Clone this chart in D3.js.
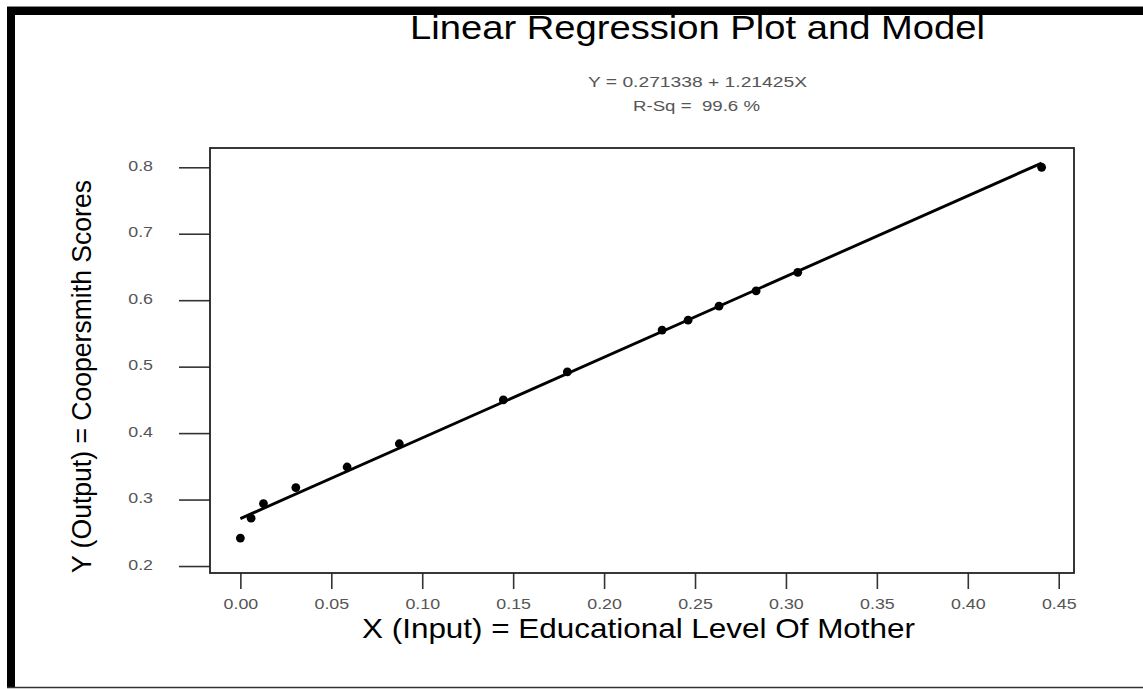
<!DOCTYPE html>
<html>
<head>
<meta charset="utf-8">
<script src="https://cdn.jsdelivr.net/npm/d3@7/dist/d3.min.js"></script>
<style>
html,body{margin:0;padding:0;background:#fff;}
svg{display:block;font-family:"Liberation Sans",Arial,sans-serif;}
</style>
</head>
<body>
<svg id="chart" width="1143" height="689"></svg>
<script>
// ---- data ----
const xValues = [0.000, 0.0059, 0.0127, 0.0305, 0.0587, 0.0874, 0.1446, 0.1798, 0.2319, 0.2462, 0.2632, 0.2836, 0.3065, 0.4406];
const yValues = [0.242, 0.272, 0.294, 0.318, 0.349, 0.384, 0.450, 0.492, 0.555, 0.570, 0.591, 0.614, 0.642, 0.800];
const xTicks = [0.00, 0.05, 0.10, 0.15, 0.20, 0.25, 0.30, 0.35, 0.40, 0.45];
const yTicks = [0.2, 0.3, 0.4, 0.5, 0.6, 0.7, 0.8];
const intercept = 0.271338;
const slope = 1.21425;
const rSq = 99.6;
const titleText = "Linear Regression Plot and Model";
const xLabelText = "X (Input) = Educational Level Of Mother";
const yLabelText = "Y (Output) = Coopersmith Scores";

// ---- layout ----
const svg = d3.select("#chart");
const frame = {left: 210, right: 1074, top: 148, bottom: 573};
const x = d3.scaleLinear().domain([-0.0167, 0.4584]).range([frame.left, frame.right]);
const y = d3.scaleLinear().domain([0.1895, 0.829]).range([frame.bottom, frame.top]);
const stretch = 1.15;

// title (drawn before the border bar so the bar overlaps its top)
svg.append("text")
  .attr("x", 410).attr("y", 39)
  .attr("font-size", 34)
  .attr("textLength", 575).attr("lengthAdjust", "spacingAndGlyphs")
  .attr("fill", "#000")
  .text(titleText);

// equation
svg.append("text")
  .attr("x", 588).attr("y", 87)
  .attr("font-size", 15.5)
  .attr("textLength", 219).attr("lengthAdjust", "spacingAndGlyphs")
  .attr("fill", "#555")
  .text(`Y = ${intercept} + ${slope}X`);
svg.append("text")
  .attr("x", 633).attr("y", 111)
  .attr("font-size", 15.5)
  .attr("textLength", 127).attr("lengthAdjust", "spacingAndGlyphs")
  .attr("fill", "#555")
  .style("white-space", "pre")
  .text(`R-Sq =  ${rSq} %`);

// outer border
svg.append("line").attr("x1", 7).attr("x2", 1143).attr("y1", 6.5).attr("y2", 6.5)
  .attr("stroke", "#888").attr("stroke-width", 1);
svg.append("rect").attr("x", 7).attr("y", 7).attr("width", 1136).attr("height", 8).attr("fill", "#000");
svg.append("rect").attr("x", 7).attr("y", 7).attr("width", 8).attr("height", 681).attr("fill", "#000");
svg.append("line").attr("x1", 7).attr("x2", 1143).attr("y1", 687.5).attr("y2", 687.5)
  .attr("stroke", "#333").attr("stroke-width", 1.5);

// axes
const yAxis = svg.append("g")
  .attr("transform", `translate(${frame.left},0)`)
  .call(d3.axisLeft(y).tickValues(yTicks).tickFormat(d3.format(".1f")).tickSize(31).tickSizeOuter(0));
yAxis.select(".domain").remove();
yAxis.selectAll(".tick line").attr("stroke", "#333").attr("stroke-width", 1.6);
yAxis.selectAll(".tick text")
  .attr("x", 0).attr("dy", "0.3em")
  .attr("transform", `translate(-57,-1.5) scale(${stretch},1)`)
  .attr("font-size", 15.5).attr("fill", "#555")
  .attr("font-family", "Liberation Sans, Arial, sans-serif");

const xAxis = svg.append("g")
  .attr("transform", `translate(0,${frame.bottom})`)
  .call(d3.axisBottom(x).tickValues(xTicks).tickFormat(d3.format(".2f")).tickSize(16).tickSizeOuter(0));
xAxis.select(".domain").remove();
xAxis.selectAll(".tick line").attr("stroke", "#333").attr("stroke-width", 1.6);
xAxis.selectAll(".tick text")
  .attr("y", 0).attr("dy", 0)
  .attr("transform", `translate(0,35.5) scale(${stretch},1)`)
  .attr("font-size", 15.5).attr("fill", "#555")
  .attr("font-family", "Liberation Sans, Arial, sans-serif");

// plot frame
svg.append("rect")
  .attr("x", frame.left).attr("y", frame.top)
  .attr("width", frame.right - frame.left).attr("height", frame.bottom - frame.top)
  .attr("fill", "none").attr("stroke", "#222").attr("stroke-width", 1.8);

// regression line
const xMin = 0, xMax = d3.max(xValues);
svg.append("line")
  .attr("x1", x(xMin)).attr("y1", y(intercept + slope * xMin))
  .attr("x2", x(xMax)).attr("y2", y(intercept + slope * xMax))
  .attr("stroke", "#000").attr("stroke-width", 2.9);

// points
svg.append("g").selectAll("circle")
  .data(xValues.map((d, i) => [d, yValues[i]]))
  .join("circle")
  .attr("cx", d => x(d[0])).attr("cy", d => y(d[1]))
  .attr("r", 4.4).attr("fill", "#000");

// axis labels
svg.append("text")
  .attr("x", 362).attr("y", 638)
  .attr("font-size", 28)
  .attr("textLength", 553).attr("lengthAdjust", "spacingAndGlyphs")
  .attr("fill", "#000")
  .text(xLabelText);
svg.append("text")
  .attr("transform", "translate(91,376.5) rotate(-90)")
  .attr("text-anchor", "middle")
  .attr("font-size", 27)
  .attr("textLength", 393).attr("lengthAdjust", "spacingAndGlyphs")
  .attr("fill", "#000")
  .text(yLabelText);
</script>
</body>
</html>
